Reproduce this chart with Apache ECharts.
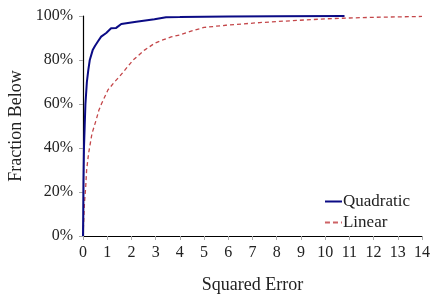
<!DOCTYPE html>
<html>
<head>
<meta charset="utf-8">
<script src="https://cdn.jsdelivr.net/npm/echarts@6/dist/echarts.min.js"></script>
<style>
  html, body { margin: 0; padding: 0; background: #fff; }
  #chart { width: 431px; height: 299px; }
</style>
</head>
<body>
<div id="chart"></div>
<script>
// squared error vs fraction below (%)
const quadX = [0, 0.01, 0.02, 0.04, 0.07, 0.1, 0.16, 0.22, 0.28, 0.4, 0.5, 0.62, 0.75, 0.96, 1.16, 1.37, 1.58, 2.2, 2.95, 3.43, 4, 5, 6, 8, 10.8]
const quadY = [0, 10, 25, 40, 50, 60, 70, 75.5, 80, 84.5, 86.5, 88.5, 90.6, 92.3, 94.4, 94.6, 96.4, 97.4, 98.5, 99.4, 99.5, 99.7, 99.8, 99.9, 100]

const linX = [0, 0.03, 0.06, 0.11, 0.15, 0.23, 0.37, 0.55, 0.65, 0.76, 1.03, 1.3, 1.51, 2.07, 2.54, 2.96, 3.26, 3.64, 4, 4.55, 5, 5.9, 7.3, 8.67, 10, 11, 12, 13, 14]
const linY = [0, 7, 15, 22, 30, 37.5, 46.5, 53, 57, 60, 66.4, 70, 72.5, 80, 84.5, 87.6, 89, 90.5, 91.4, 93.4, 94.8, 95.8, 97, 97.9, 98.7, 99.1, 99.4, 99.6, 99.8]

const seriesNames = ['Quadratic', 'Linear']

const font = 'Liberation Serif'
const blue = '#0b0b85'
const red = '#c4474a'

const chart = echarts.init(document.getElementById('chart'))

chart.setOption({
  animation: false,
  grid: {
    left: 83,
    right: 9,
    top: 16,
    bottom: 63,
    outerBoundsMode: 'none'
  },
  legend: {
    orient: 'vertical',
    right: 16,
    top: 188,
    itemWidth: 17,
    itemHeight: 2,
    itemGap: 4,
    symbolKeepAspect: false,
    textStyle: {
      fontFamily: font,
      fontSize: 17,
      color: '#222',
      padding: [0, 0, 0, -4]
    },
    data: [
      {
        name: seriesNames[0],
        icon: 'path://M0,0H17V2H0Z',
        itemStyle: { color: blue }
      },
      {
        name: seriesNames[1],
        icon: 'path://M0,0H5V2H0Z M8,0H13V2H8Z M16,0H17V2H16Z',
        itemStyle: { color: red, opacity: 0.85 }
      }
    ]
  },
  xAxis: {
    type: 'value',
    min: 0,
    max: 14,
    interval: 1,
    name: 'Squared Error',
    nameLocation: 'middle',
    nameGap: 40,
    nameTextStyle: { fontFamily: font, fontSize: 18, color: '#222' },
    axisLine: { lineStyle: { color: '#000', width: 1.2 } },
    axisTick: { show: true, length: 4, lineStyle: { color: '#aaa' } },
    axisLabel: { fontFamily: font, fontSize: 16, color: '#222', margin: 9 },
    splitLine: { show: false }
  },
  yAxis: {
    type: 'value',
    min: 0,
    max: 100,
    interval: 20,
    name: 'Fraction Below',
    nameLocation: 'middle',
    nameGap: 56,
    nameTextStyle: { fontFamily: font, fontSize: 18, color: '#222' },
    axisLine: { show: true, lineStyle: { color: '#000', width: 1.2 } },
    axisTick: { show: true, length: 4, lineStyle: { color: '#aaa' } },
    axisLabel: {
      fontFamily: font,
      fontSize: 16,
      color: '#222',
      margin: 10,
      formatter: '{value}%'
    },
    splitLine: { show: false }
  },
  series: [
    {
      name: seriesNames[0],
      type: 'line',
      showSymbol: false,
      symbol: 'none',
      color: blue,
      lineStyle: { color: blue, width: 2 },
      data: quadX.map((x, i) => [x, quadY[i]]),
      z: 3
    },
    {
      name: seriesNames[1],
      type: 'line',
      showSymbol: false,
      symbol: 'none',
      color: red,
      lineStyle: { color: red, width: 1.3, type: [4, 3] },
      data: linX.map((x, i) => [x, linY[i]]),
      z: 2
    }
  ]
})
</script>
</body>
</html>
